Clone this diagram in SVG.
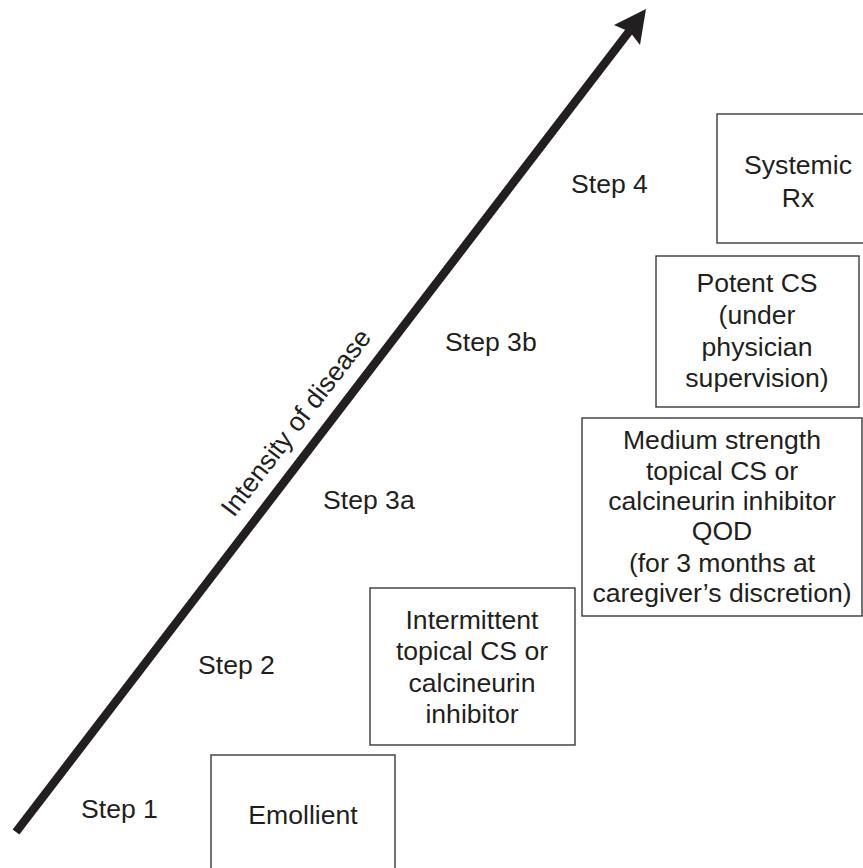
<svg xmlns="http://www.w3.org/2000/svg" width="863" height="868" viewBox="0 0 863 868">
<style>
.box{fill:#fff;stroke:#3a3a3a;stroke-width:1.4}
text{font-family:"Liberation Sans",Arial,sans-serif;font-size:26.6px;fill:#231f20}
.c{text-anchor:middle}
</style>
<rect width="863" height="868" fill="#fff"/>
<g id="connectors">
<line x1="16" y1="832" x2="631" y2="29" stroke="#231f20" stroke-width="8.5"/>
<path d="M646,9 L640,45 L630,32 L614,25 Z" fill="#231f20"/>
<text transform="translate(303,428) rotate(-52.5)" class="c" font-size="27">Intensity of disease</text>
</g>
<g id="step1"><text x="81" y="818">Step 1</text></g>
<g id="step2"><text x="198" y="674">Step 2</text></g>
<g id="step3a"><text x="323" y="509">Step 3a</text></g>
<g id="step3b"><text x="445" y="351">Step 3b</text></g>
<g id="step4"><text x="571" y="193">Step 4</text></g>
<g id="emollient">
<rect class="box" x="211" y="755" width="184" height="125"/>
<text class="c" x="303" y="824">Emollient</text>
</g>
<g id="intermittent">
<rect class="box" x="370" y="588" width="205" height="157"/>
<text class="c" x="472" y="629">Intermittent</text>
<text class="c" x="472" y="660">topical CS or</text>
<text class="c" x="472" y="692">calcineurin</text>
<text class="c" x="472" y="723">inhibitor</text>
</g>
<g id="medium">
<rect class="box" x="582" y="418" width="280" height="198"/>
<text class="c" x="722" y="449">Medium strength</text>
<text class="c" x="722" y="480">topical CS or</text>
<text class="c" x="722" y="510">calcineurin inhibitor</text>
<text class="c" x="722" y="540">QOD</text>
<text class="c" x="722" y="572">(for 3 months at</text>
<text class="c" x="722" y="602">caregiver’s discretion)</text>
</g>
<g id="potent">
<rect class="box" x="656" y="256" width="203" height="151"/>
<text class="c" x="757" y="292">Potent CS</text>
<text class="c" x="757" y="324">(under</text>
<text class="c" x="757" y="356">physician</text>
<text class="c" x="757" y="387">supervision)</text>
</g>
<g id="systemic">
<rect class="box" x="717" y="114" width="160" height="129"/>
<text class="c" x="798" y="174">Systemic</text>
<text class="c" x="798" y="207">Rx</text>
</g>
</svg>
